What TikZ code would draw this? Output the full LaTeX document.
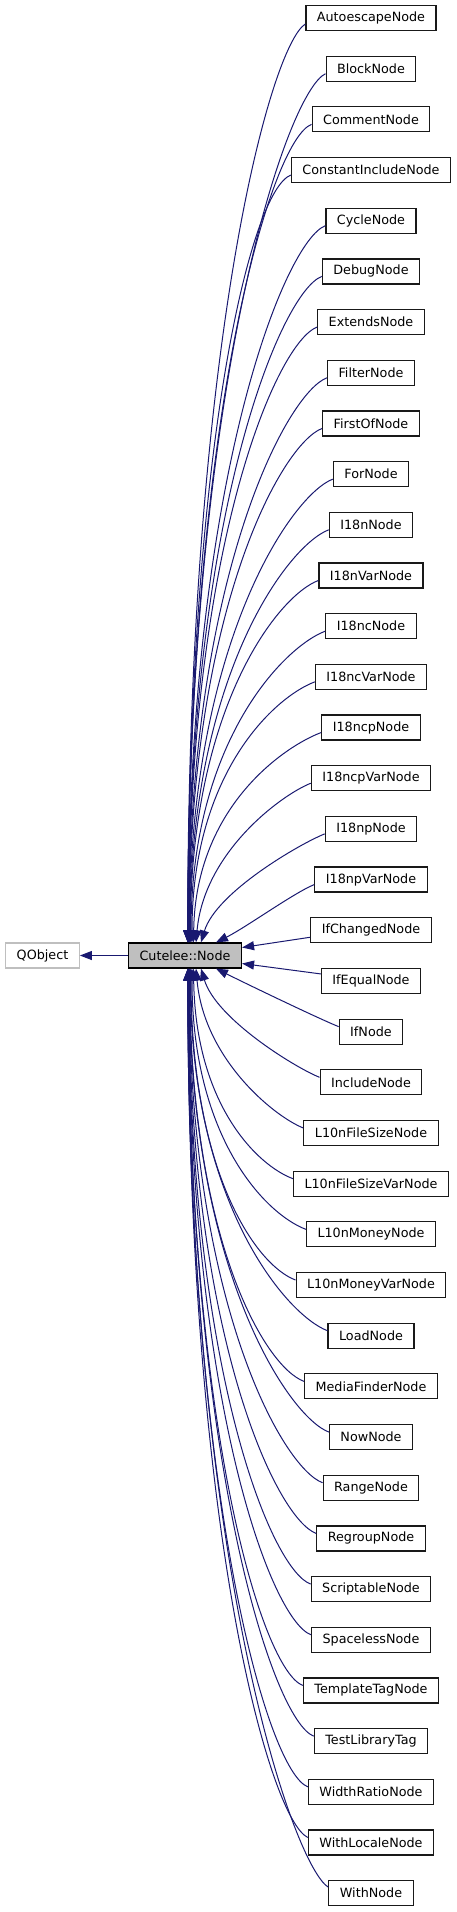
\documentclass[tikz,border=0pt]{standalone}
\usepackage{fontspec}
\setmainfont{DejaVu Sans}
\usetikzlibrary{arrows.meta,positioning}
\definecolor{edgeblue}{HTML}{191970}
\definecolor{basegray}{HTML}{BFBFBF}

\begin{document}
\begin{tikzpicture}[x=1bp,y=1bp,
  cls/.style={draw=black!90, line width=1.2bp, minimum height=25bp, inner xsep=11bp, inner ysep=0bp, font=\fontsize{12.8}{15}\selectfont},
  base/.style={cls, draw=basegray},
  cur/.style={cls, draw=black, fill=basegray},
  inh/.style={draw=edgeblue, line width=1bp, {Triangle[length=12bp,width=9bp]}-}]

\useasboundingbox (0,0) rectangle (457,-1912);

%Cutelee::Node
\node[cur] (cn) at (185,-955.5) {Cutelee::Node};
%QObject
\node[base, node distance=142.5bp, left of=cn] (qobject) {QObject};

%derived classes
\begin{scope}[node distance=50.68bp]
\node[cls] (autoescape) at (371,-18) {AutoescapeNode};
\node[cls, below of=autoescape] (block) {BlockNode};
\node[cls, below of=block] (comment) {CommentNode};
\node[cls, below of=comment] (constinclude) {ConstantIncludeNode};
\node[cls, below of=constinclude] (cycle) {CycleNode};
\node[cls, below of=cycle] (debug) {DebugNode};
\node[cls, below of=debug] (extends) {ExtendsNode};
\node[cls, below of=extends] (filter) {FilterNode};
\node[cls, below of=filter] (firstof) {FirstOfNode};
\node[cls, below of=firstof] (for) {ForNode};
\node[cls, below of=for] (ieighten) {I18nNode};
\node[cls, below of=ieighten] (ieightenvar) {I18nVarNode};
\node[cls, below of=ieightenvar] (ieightenc) {I18ncNode};
\node[cls, below of=ieightenc] (ieightencvar) {I18ncVarNode};
\node[cls, below of=ieightencvar] (ieightencp) {I18ncpNode};
\node[cls, below of=ieightencp] (ieightencpvar) {I18ncpVarNode};
\node[cls, below of=ieightencpvar] (ieightenp) {I18npNode};
\node[cls, below of=ieightenp] (ieightenpvar) {I18npVarNode};
\node[cls, below of=ieightenpvar] (ifchanged) {IfChangedNode};
\node[cls, below of=ifchanged] (ifequal) {IfEqualNode};
\node[cls, below of=ifequal] (if) {IfNode};
\node[cls, below of=if] (include) {IncludeNode};
\node[cls, below of=include] (lfilesize) {L10nFileSizeNode};
\node[cls, below of=lfilesize] (lfilesizevar) {L10nFileSizeVarNode};
\node[cls, below of=lfilesizevar] (lmoney) {L10nMoneyNode};
\node[cls, below of=lmoney] (lmoneyvar) {L10nMoneyVarNode};
\node[cls, below of=lmoneyvar] (load) {LoadNode};
\node[cls, below of=load] (mediafinder) {MediaFinderNode};
\node[cls, below of=mediafinder] (now) {NowNode};
\node[cls, below of=now] (range) {RangeNode};
\node[cls, below of=range] (regroup) {RegroupNode};
\node[cls, below of=regroup] (scriptable) {ScriptableNode};
\node[cls, below of=scriptable] (spaceless) {SpacelessNode};
\node[cls, below of=spaceless] (templatetag) {TemplateTagNode};
\node[cls, below of=templatetag] (testlibrary) {TestLibraryTag};
\node[cls, below of=testlibrary] (widthratio) {WidthRatioNode};
\node[cls, below of=widthratio] (withlocale) {WithLocaleNode};
\node[cls, below of=withlocale] (with) {WithNode};
\end{scope}

%base class
\draw[inh] (qobject.east) -- (cn.west);

%upper edges
\draw[inh] ([xshift=2.7bp]cn.north) .. controls +(0,598) and +(-35,-22) .. ([yshift=-6bp]autoescape.west);
\draw[inh] ([xshift=2.8bp]cn.north) .. controls +(0,565) and +(-38,-18) .. ([yshift=-5bp]block.west);
\draw[inh] ([xshift=2.9bp]cn.north) .. controls +(0,532) and +(-40,-15) .. ([yshift=-5bp]comment.west);
\draw[inh] ([xshift=3.0bp]cn.north) .. controls +(0,499) and +(-40,-15) .. ([yshift=-5bp]constinclude.west);
\draw[inh] ([xshift=3.1bp]cn.north) .. controls +(0,466) and +(-40,-15) .. ([yshift=-5bp]cycle.west);
\draw[inh] ([xshift=3.3bp]cn.north) .. controls +(0,433) and +(-40,-15) .. ([yshift=-5bp]debug.west);
\draw[inh] ([xshift=3.5bp]cn.north) .. controls +(0,400) and +(-40,-15) .. ([yshift=-5bp]extends.west);
\draw[inh] ([xshift=3.7bp]cn.north) .. controls +(0,367) and +(-40,-15) .. ([yshift=-5bp]filter.west);
\draw[inh] ([xshift=4.0bp]cn.north) .. controls +(0,334) and +(-40,-15) .. ([yshift=-5bp]firstof.west);
\draw[inh] ([xshift=4.3bp]cn.north) .. controls +(0,302) and +(-40,-15) .. ([yshift=-5bp]for.west);
\draw[inh] ([xshift=4.8bp]cn.north) .. controls +(0,269) and +(-40,-15) .. ([yshift=-5bp]ieighten.west);
\draw[inh] ([xshift=5.3bp]cn.north) .. controls +(0,236) and +(-40,-15) .. ([yshift=-5bp]ieightenvar.west);
\draw[inh] ([xshift=6bp]cn.north) .. controls +(0,203) and +(-40,-15) .. ([yshift=-5bp]ieightenc.west);
\draw[inh] ([xshift=7bp]cn.north) .. controls +(0,170) and +(-40,-15) .. ([yshift=-5bp]ieightencvar.west);
\draw[inh] ([xshift=8.5bp]cn.north) .. controls +(2,137) and +(-35,-13) .. ([yshift=-5bp]ieightencp.west);
\draw[inh] ([xshift=11bp]cn.north) .. controls +(8,90) and +(-30,-12) .. ([yshift=-5bp]ieightencpvar.west);
\draw[inh] ([xshift=16bp]cn.north) .. controls +(15,50) and +(-25,-10) .. ([yshift=-5bp]ieightenp.west);
\draw[inh] ([xshift=31bp]cn.north) .. controls +(30,15) and +(-20,-8) .. ([yshift=-5bp]ieightenpvar.west);

%side edges
\draw[inh] ([yshift=8bp]cn.east) -- ([yshift=-7bp]ifchanged.west);
\draw[inh] ([yshift=-8bp]cn.east) -- ([yshift=7bp]ifequal.west);

%lower edges
\draw[inh] ([xshift=31bp]cn.south) .. controls +(30,-15) and +(-20,8) .. ([yshift=5bp]if.west);
\draw[inh] ([xshift=16bp]cn.south) .. controls +(15,-50) and +(-25,10) .. ([yshift=5bp]include.west);
\draw[inh] ([xshift=11bp]cn.south) .. controls +(8,-90) and +(-30,12) .. ([yshift=5bp]lfilesize.west);
\draw[inh] ([xshift=8.5bp]cn.south) .. controls +(2,-137) and +(-35,13) .. ([yshift=5bp]lfilesizevar.west);
\draw[inh] ([xshift=7bp]cn.south) .. controls +(0,-170) and +(-40,15) .. ([yshift=5bp]lmoney.west);
\draw[inh] ([xshift=6bp]cn.south) .. controls +(0,-203) and +(-40,15) .. ([yshift=5bp]lmoneyvar.west);
\draw[inh] ([xshift=5.3bp]cn.south) .. controls +(0,-236) and +(-40,15) .. ([yshift=5bp]load.west);
\draw[inh] ([xshift=4.8bp]cn.south) .. controls +(0,-269) and +(-40,15) .. ([yshift=5bp]mediafinder.west);
\draw[inh] ([xshift=4.3bp]cn.south) .. controls +(0,-302) and +(-40,15) .. ([yshift=5bp]now.west);
\draw[inh] ([xshift=4.0bp]cn.south) .. controls +(0,-334) and +(-40,15) .. ([yshift=5bp]range.west);
\draw[inh] ([xshift=3.7bp]cn.south) .. controls +(0,-367) and +(-40,15) .. ([yshift=5bp]regroup.west);
\draw[inh] ([xshift=3.5bp]cn.south) .. controls +(0,-400) and +(-40,15) .. ([yshift=5bp]scriptable.west);
\draw[inh] ([xshift=3.3bp]cn.south) .. controls +(0,-433) and +(-40,15) .. ([yshift=5bp]spaceless.west);
\draw[inh] ([xshift=3.1bp]cn.south) .. controls +(0,-466) and +(-40,15) .. ([yshift=5bp]templatetag.west);
\draw[inh] ([xshift=3.0bp]cn.south) .. controls +(0,-499) and +(-40,15) .. ([yshift=5bp]testlibrary.west);
\draw[inh] ([xshift=2.9bp]cn.south) .. controls +(0,-532) and +(-40,15) .. ([yshift=5bp]widthratio.west);
\draw[inh] ([xshift=2.8bp]cn.south) .. controls +(0,-565) and +(-38,18) .. ([yshift=5bp]withlocale.west);
\draw[inh] ([xshift=2.7bp]cn.south) .. controls +(0,-598) and +(-35,22) .. ([yshift=6bp]with.west);

\end{tikzpicture}
\end{document}
